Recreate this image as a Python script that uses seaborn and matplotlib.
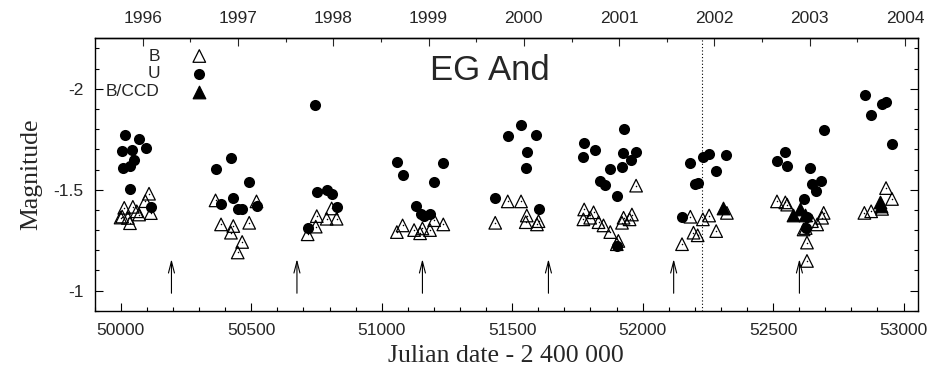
import numpy as np
import pandas as pd
import matplotlib
matplotlib.use("Agg")
import matplotlib.pyplot as plt
import seaborn as sns

# ---------------- data ----------------
B_jd = [50108, 50094, 50115, 50013, 50046, 50005, 50070, 50035, 50061, 50027, 49999,
        50363, 50520, 50384, 50431, 50422, 50492, 50465, 50448,
        50751, 50808, 50789, 50827, 50747, 50716,
        51080, 51058, 51124, 51156, 51185, 51147, 51201, 51236,
        51483, 51534, 51435, 51556, 51552, 51601, 51595,
        51975, 51776, 51812, 51773, 51799, 51831, 51850, 51876, 51927, 51921, 51959, 51950, 51907, 51901,
        52183, 52231, 52255, 52323, 52195, 52211, 52282, 52151,
        52515, 52547, 52554, 52694, 52688, 52669, 52649, 52617, 52630, 52630, 52625,
        52933, 52956, 52850, 52876, 52918]
B_mag = [-1.480, -1.443, -1.384, -1.410, -1.415, -1.367, -1.377, -1.334, -1.393, -1.360, -1.362,
         -1.447, -1.442, -1.328, -1.320, -1.287, -1.336, -1.241, -1.189,
         -1.369, -1.407, -1.356, -1.356, -1.317, -1.279,
         -1.323, -1.290, -1.300, -1.308, -1.300, -1.284, -1.349, -1.328,
         -1.442, -1.442, -1.336, -1.372, -1.339, -1.344, -1.328,
         -1.520, -1.402, -1.388, -1.353, -1.361, -1.339, -1.323, -1.290, -1.361, -1.336, -1.377, -1.353, -1.246, -1.230,
         -1.366, -1.353, -1.372, -1.385, -1.287, -1.274, -1.295, -1.230,
         -1.442, -1.437, -1.426, -1.385, -1.361, -1.328, -1.344, -1.303, -1.238, -1.147, -1.310,
         -1.508, -1.454, -1.385, -1.393, -1.405]

U_jd = [50016, 50069, 50096, 50006, 50043, 50051, 50009, 50037, 50035, 50114,
        50422, 50364, 50491, 50428, 50384, 50448, 50465, 50520,
        50744, 50753, 50789, 50808, 50827, 50716,
        51060, 51080, 51236, 51201, 51130, 51151, 51163, 51185,
        51534, 51483, 51592, 51556, 51552, 51435, 51603,
        51927, 51776, 51816, 51771, 51924, 51975, 51955, 51921, 51876, 51835, 51857, 51901, 51901,
        52183, 52231, 52253, 52321, 52282, 52199, 52212, 52151,
        52515, 52547, 52554, 52694, 52640, 52649, 52684, 52665, 52617, 52628, 52630,
        52854, 52918, 52933, 52876, 52954]
U_mag = [-1.773, -1.749, -1.705, -1.692, -1.695, -1.647, -1.605, -1.617, -1.504, -1.415,
         -1.656, -1.602, -1.538, -1.459, -1.431, -1.402, -1.402, -1.421,
         -1.918, -1.487, -1.500, -1.480, -1.415, -1.312,
         -1.636, -1.575, -1.631, -1.536, -1.421, -1.382, -1.372, -1.382,
         -1.820, -1.765, -1.770, -1.685, -1.607, -1.459, -1.402,
         -1.803, -1.733, -1.697, -1.664, -1.680, -1.688, -1.647, -1.612, -1.603, -1.541, -1.525, -1.467, -1.221,
         -1.631, -1.664, -1.676, -1.672, -1.593, -1.529, -1.533, -1.366,
         -1.644, -1.688, -1.618, -1.795, -1.607, -1.530, -1.541, -1.492, -1.454, -1.312, -1.366,
         -1.967, -1.923, -1.934, -1.872, -1.725]

CCD_jd = [52310, 52577, 52605, 52621, 52909, 52914]
CCD_mag = [-1.410, -1.377, -1.402, -1.377, -1.437, -1.418]

year_labels = ["1996", "1997", "1998", "1999", "2000", "2001", "2002", "2003", "2004"]
year_jd = [50083.5, 50449.5, 50814.5, 51179.5, 51544.5, 51910.5, 52275.5, 52640.5, 53005.5]

arrow_jd = [50194, 50675, 51156, 51639, 52119, 52601]
arrow_mag_base = -0.987
arrow_mag_tip = -1.156

dotted_jd = 52227

title_text = "EG And"
xlabel_text = "Julian date - 2 400 000"
ylabel_text = "Magnitude"

# ---------------- plot ----------------
sns.set_style("ticks")
plt.rcParams['font.family'] = ['Liberation Sans', 'DejaVu Sans']

fig = plt.figure(figsize=(9.29, 3.70), dpi=100)
ax = fig.add_axes([0.102, 0.160, 0.886, 0.7365])

dfB = pd.DataFrame({"jd": B_jd, "mag": B_mag})
dfU = pd.DataFrame({"jd": U_jd, "mag": U_mag})
dfC = pd.DataFrame({"jd": CCD_jd, "mag": CCD_mag})

sns.scatterplot(data=dfB, x="jd", y="mag", ax=ax, marker="^", s=82,
                facecolor="none", edgecolor="black", linewidth=0.9, zorder=3)
# tiny centre dot of each gnuplot triangle
sns.scatterplot(data=dfB, x="jd", y="mag", ax=ax, marker="o", s=1.2,
                color="black", linewidth=0, zorder=3)
sns.scatterplot(data=dfU, x="jd", y="mag", ax=ax, marker="o", s=64,
                color="black", edgecolor="black", linewidth=0, zorder=4)
sns.scatterplot(data=dfC, x="jd", y="mag", ax=ax, marker="^", s=82,
                color="black", edgecolor="black", linewidth=0.9, zorder=5)

# arrows
for a in arrow_jd:
    ax.annotate("", xy=(a, arrow_mag_tip), xytext=(a, arrow_mag_base),
                arrowprops=dict(arrowstyle="->,head_length=0.7,head_width=0.18",
                                color="black", lw=0.8, shrinkA=0, shrinkB=0,
                                mutation_scale=12))

ax.axvline(dotted_jd, color="black", lw=0.8, ls=(0, (1, 2)), zorder=1)

ax.set_xlim(49900, 53055)
ax.set_ylim(-0.9, -2.25)

ax.set_xticks(np.arange(50000, 53001, 500))
ax.set_xticks(np.arange(49900, 53051, 100), minor=True)
ax.set_yticks([-2, -1.5, -1])
ax.set_yticklabels(["-2", "-1.5", "-1"])
ax.set_yticks(np.arange(-2.2, -0.89, 0.1), minor=True)

ax.tick_params(axis="x", which="both", direction="in", top=False, bottom=True,
               labelsize=12.5, pad=9, color="black")
ax.tick_params(axis="y", which="both", direction="in", left=True, right=True,
               labelsize=12.5, pad=8, color="black")
ax.tick_params(which="major", length=6, width=0.8)
ax.tick_params(which="minor", length=3, width=0.8)

sec = ax.secondary_xaxis("top")
sec.set_xticks(year_jd, labels=year_labels)
mid_jd = [(year_jd[i] + year_jd[i + 1]) / 2 for i in range(len(year_jd) - 1)]
sec.set_xticks(mid_jd, minor=True)
sec.tick_params(which="both", direction="in", labelsize=12.5, pad=9, width=0.8)
sec.tick_params(which="major", length=6)
sec.tick_params(which="minor", length=3)

for sp in ax.spines.values():
    sp.set_visible(True)
    sp.set_linewidth(1.0)
    sp.set_color("black")
sec.spines["top"].set_linewidth(1.0)

ax.set_xlabel(xlabel_text, family=["Liberation Serif", "DejaVu Serif"], fontsize=18.5, labelpad=5)
ax.set_ylabel(ylabel_text, family=["Liberation Serif", "DejaVu Serif"], fontsize=18.5, labelpad=8)

ax.text(0.48, 0.88, title_text, transform=ax.transAxes, ha="center", va="center",
        fontsize=25)

# legend (gnuplot style: right-aligned labels, markers to the right)
leg_items = [("B", "^", "none"), ("U", "o", "black"), ("B/CCD", "^", "black")]
leg_y = [0.935, 0.869, 0.803]
for (lab, mk, fc), yy in zip(leg_items, leg_y):
    ax.text(0.079, yy, lab, transform=ax.transAxes, ha="right", va="center", fontsize=12.5)
    ax.scatter([0.127], [yy], transform=ax.transAxes, marker=mk, s=82 if mk == "^" else 64,
               facecolor=fc, edgecolor="black", linewidth=0.9 if mk == "^" else 0,
               clip_on=False, zorder=6)

fig.savefig("out.png", dpi=100)
